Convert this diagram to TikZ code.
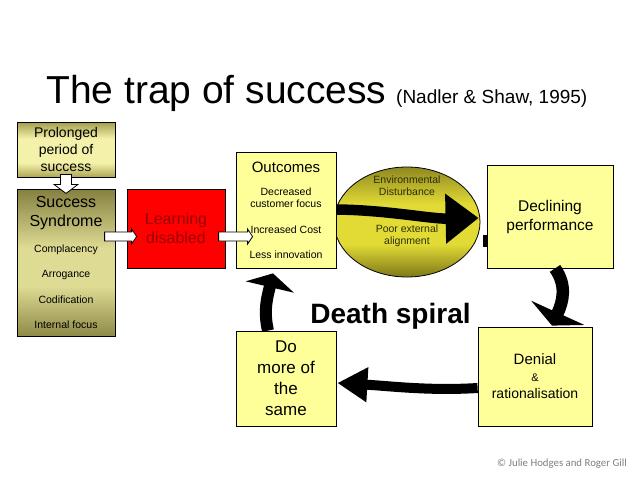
\documentclass[tikz,border=0pt]{standalone}
\usepackage{fontspec}
\setmainfont{Liberation Sans}
\newfontfamily\copyfont{Carlito}
\usetikzlibrary{arrows.meta,calc,shapes.geometric}
\definecolor{boxyellow}{HTML}{FFFF99}
\definecolor{boxred}{HTML}{FF0000}
\definecolor{learnred}{HTML}{9B0000}
\definecolor{prolTop}{HTML}{A39D4E}
\definecolor{prolMid}{HTML}{F4F1AA}
\definecolor{prolBot}{HTML}{ADA756}
\definecolor{syndTop}{HTML}{858040}
\definecolor{syndMid}{HTML}{DEDB94}
\definecolor{syndBot}{HTML}{8E8A48}
\definecolor{envTop}{HTML}{8F8820}
\definecolor{envMid}{HTML}{E2DB36}
\definecolor{envBot}{HTML}{7E7818}
\definecolor{envText}{HTML}{2E2E08}
\definecolor{copygray}{HTML}{7F7F7F}
\pgfdeclareverticalshading{prolshade}{100bp}{color(0bp)=(prolBot); color(25bp)=(prolBot); color(38bp)=(prolMid); color(60bp)=(prolMid); color(75bp)=(prolTop); color(100bp)=(prolTop)}
\pgfdeclareverticalshading{syndshade}{100bp}{color(0bp)=(syndBot); color(25bp)=(syndBot); color(42bp)=(syndMid); color(55bp)=(syndMid); color(75bp)=(syndTop); color(100bp)=(syndTop)}
\pgfdeclareverticalshading{envshade}{100bp}{color(0bp)=(envBot); color(25bp)=(envBot); color(40bp)=(envMid); color(58bp)=(envMid); color(75bp)=(envTop); color(100bp)=(envTop)}
\begin{document}
\begin{tikzpicture}[x=1pt,y=-1pt,
  box/.style={draw=black, line width=0.8pt, inner sep=0pt, align=center, text=black},
  ybox/.style={box, fill=boxyellow},
  blockarr/.style={draw=black, fill=white, line width=0.8pt, line join=miter},
  spiral/.style={draw=black, line width=11pt},
  txt/.style={inner sep=0pt, align=center}
]
\useasboundingbox (0,0) rectangle (638,479);
\fill[white] (0,0) rectangle (638,479);

% title
\node[inner sep=0pt, anchor=base west, font=\fontsize{39}{44}\selectfont] (title) at (46,103) {The trap of success};
\node[inner sep=0pt, anchor=base west, font=\fontsize{19}{22}\selectfont] (cite) at (396,103) {(Nadler \& Shaw, 1995)};

% left column
\node[box, shading=prolshade, minimum width=98pt, minimum height=55pt, font=\fontsize{14}{17}\selectfont]
  (prol) at (66,149.5) {Prolonged\\period of\\success};
\node[box, shading=syndshade, minimum width=98pt, minimum height=147pt, font=\fontsize{10.5}{25.5}\selectfont]
  (synd) at (66,262.5) {{\fontsize{16}{19}\selectfont Success}\\[-6.5pt]{\fontsize{16}{19}\selectfont Syndrome}\\Complacency\\Arrogance\\Codification\\Internal focus};
\node[box, fill=boxred, text=learnred, minimum width=98pt, minimum height=79pt,
      font=\fontsize{16}{19}\selectfont] (learn) at (176,228.5) {Learning\\disabled};

% environment ellipse
\node[ellipse, draw=black, line width=0.8pt, inner sep=0pt, minimum width=146pt, minimum height=110pt,
      shading=envshade] (env) at (407,222) {};
\node[txt, text=envText, font=\fontsize{10.5}{12.5}\selectfont] (envtop) at ($(env.center)+(0,-36.5)$) {Environmental\\Disturbance};
\node[txt, text=envText, font=\fontsize{10.5}{12.5}\selectfont] (envbot) at ($(env.center)+(0,14)$) {Poor external\\alignment};

% yellow boxes
\node[ybox, minimum width=100pt, minimum height=116pt, font=\fontsize{10.5}{12}\selectfont]
  (out) at (286,210) {{\fontsize{15}{18}\selectfont Outcomes}\\[11pt]Decreased\\customer focus\\[14pt]Increased Cost\\[13pt]Less innovation};
\fill[black] (483,235) rectangle (490,247);
\node[ybox, minimum width=126pt, minimum height=103pt, font=\fontsize{15.5}{19}\selectfont]
  (decl) at (550,216.5) {Declining\\performance};
\node[ybox, minimum width=114pt, minimum height=99pt, font=\fontsize{14}{17}\selectfont]
  (denial) at (535,376.5) {{\fontsize{15}{18}\selectfont Denial}\\{\fontsize{11}{13}\selectfont \&}\\rationalisation};
\node[ybox, minimum width=100pt, minimum height=95pt, font=\fontsize{17}{21}\selectfont]
  (domore) at (286,378.5) {Do\\more of\\the\\same};

% white block arrows
\draw[blockarr] ($(prol.south)+(-5.5,-3)$) -- ++(11,0) -- ++(0,10) -- ++(6.5,0) -- ++(-12,9) -- ++(-12,-9) -- ++(6.5,0) -- cycle;
\draw[blockarr] ($(learn.west)+(-22,3.5)$) -- ++(27,0) -- ++(0,-3) -- ++(5,7.5) -- ++(-5,7.5) -- ++(0,-3) -- ++(-27,0) -- cycle;
\draw[blockarr] ($(out.west)+(-17,22)$) -- ++(29,0) -- ++(0,-3) -- ++(5,7.5) -- ++(-5,7.5) -- ++(0,-3) -- ++(-29,0) -- cycle;

% death spiral arrows
\draw[spiral, line width=10.5pt, -{Triangle[length=33pt,width=48pt]}]
  ($(out.east)+(0,-0.5)$) .. controls ($(out.east)+(50,0)$) and ($(out.east)+(94,9)$) .. ($(decl.west)+(-8,1.5)$);
\draw[spiral, line width=12.5pt, -{Triangle[length=14pt,width=58pt]}]
  ($(decl.south)+(5,0)$) .. controls ($(decl.south)+(17,17)$) and ($(decl.south)+(13,33)$) .. ($(denial.north)+(17,-1)$);
\draw[spiral, line width=10pt, -{Triangle[length=30pt,width=33pt]}]
  ($(denial.west)+(0,11.5)$) .. controls ($(denial.west)+(-48,14.5)$) and ($(denial.west)+(-88,9.5)$) .. ($(domore.east)+(1,4.5)$);
\draw[spiral, line width=12pt, -{Triangle[length=14pt,width=49pt]}]
  ($(domore.north)+(-18,0)$) .. controls ($(domore.north)+(-23,-21)$) and ($(domore.north)+(-18,-36)$) .. ($(out.south)+(-13,5)$);

\node[inner sep=0pt, anchor=base, font=\fontsize{28}{32}\selectfont\bfseries] (ds) at (390.5,323) {Death spiral};

\node[inner sep=0pt, anchor=east, text=copygray, font=\copyfont\fontsize{10.8}{13}\selectfont] (copy) at (627,464) {© Julie Hodges and Roger Gill};
\end{tikzpicture}
\end{document}
